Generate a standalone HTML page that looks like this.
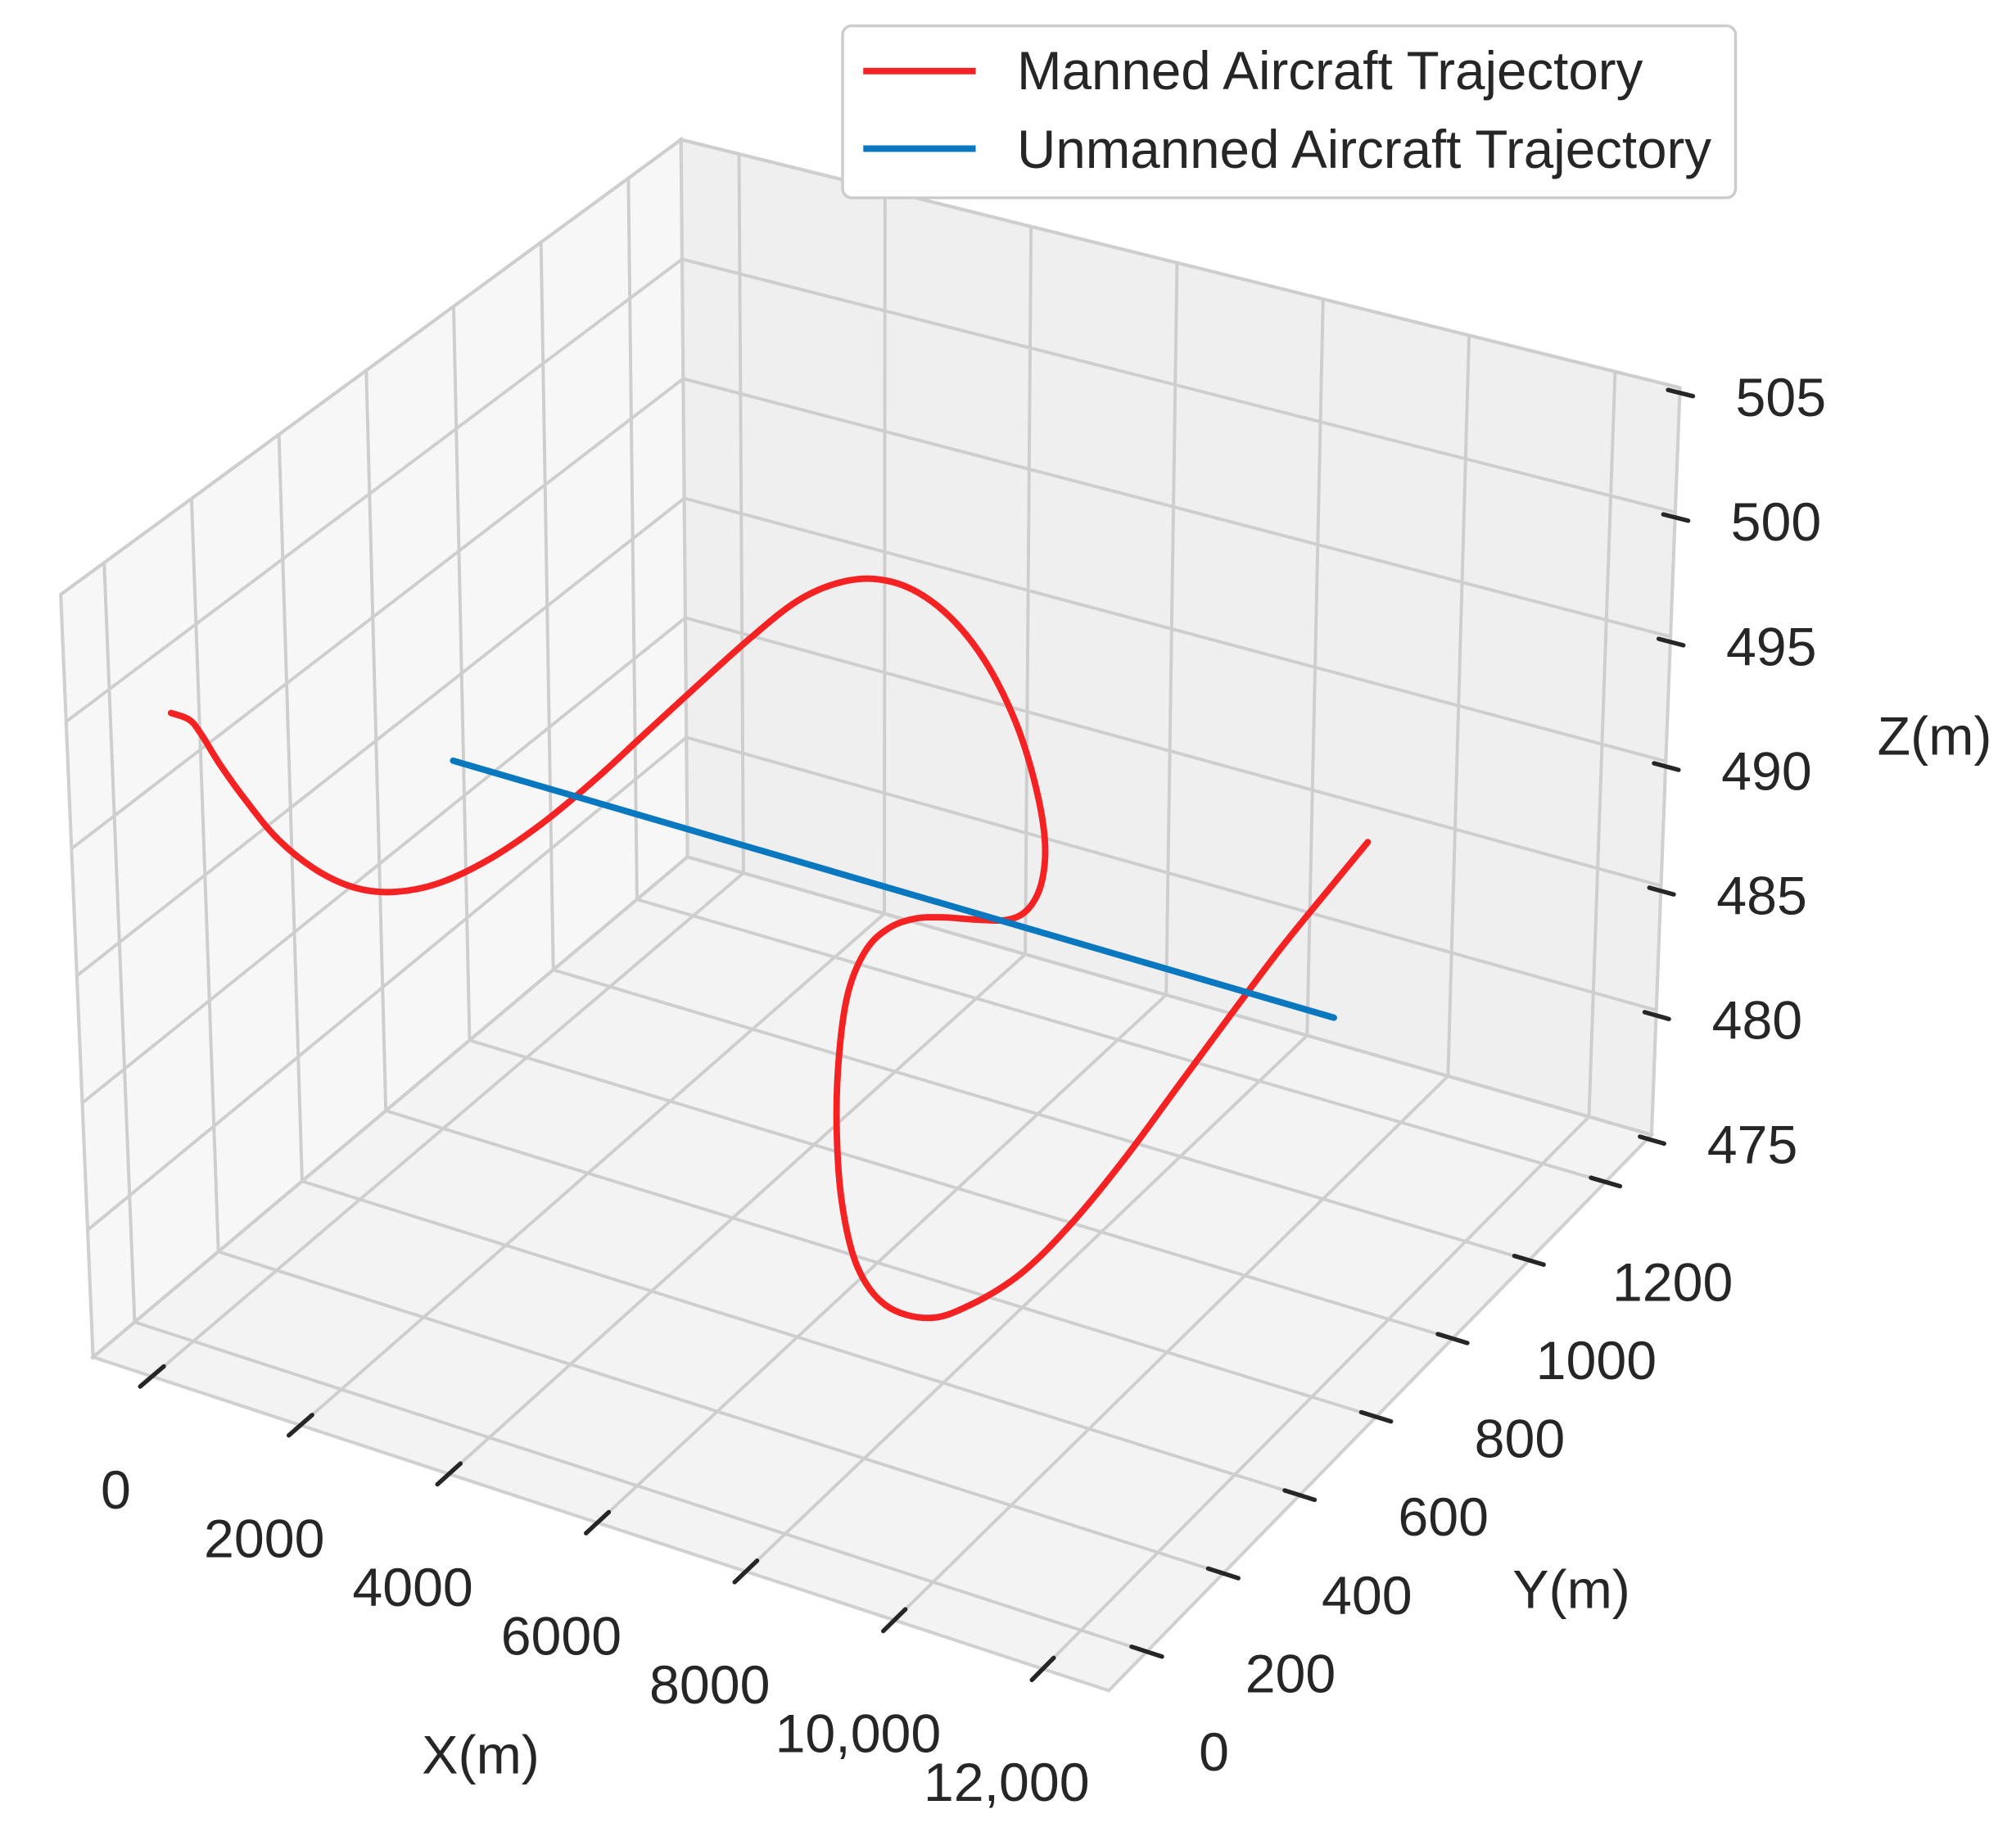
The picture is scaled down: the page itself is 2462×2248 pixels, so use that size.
<!DOCTYPE html>
<html>
<head>
<meta charset="utf-8">
<style>
  html,body{margin:0;padding:0;background:#ffffff;}
  #chart{display:block;width:2462px;height:2248px;}
  text{font-family:"Liberation Sans", Arial, sans-serif;fill:#262626;}
</style>
</head>
<body>
<svg id="chart" xmlns="http://www.w3.org/2000/svg" width="2462" height="2248" viewBox="0 0 1560 1424.4" preserveAspectRatio="none">
  <g id="panes"></g>
  <g id="grid"></g>
  <g id="ticks"></g>
  <g id="labels"></g>
  <g id="series"></g>
  <text x="372" y="1372" text-anchor="middle" font-size="42">X(m)</text>
  <text x="1216" y="1244" text-anchor="middle" font-size="42">Y(m)</text>
  <text x="1497" y="584" text-anchor="middle" font-size="42">Z(m)</text>
  <g>
    <rect x="652" y="20" width="691" height="133" rx="7" ry="7" fill="#ffffff" stroke="#cccccc" stroke-width="2.2"/>
    <line x1="668" y1="55" x2="755" y2="55" stroke="#f42222" stroke-width="5"/>
    <text x="787" y="69" font-size="41.5">Manned Aircraft Trajectory</text>
    <line x1="668" y1="115" x2="755" y2="115" stroke="#0a78bf" stroke-width="5"/>
    <text x="787" y="130" font-size="41.5">Unmanned Aircraft Trajectory</text>
  </g>
</svg>
<script>
// ---- data ----
const xTicks = [0, 2000, 4000, 6000, 8000, 10000, 12000];
const xTickLabels = ["0", "2000", "4000", "6000", "8000", "10,000", "12,000"];
const yTicks = [0, 200, 400, 600, 800, 1000, 1200];
const yTickLabels = ["0", "200", "400", "600", "800", "1000", "1200"];
const zTicks = [475, 480, 485, 490, 495, 500, 505];
const zTickLabels = ["475", "480", "485", "490", "495", "500", "505"];

const mannedX = [-3353,-3107,-2953,-2701,-2361,-1934,-1412,-886,-353,271,989,1706,2422,3135,3844,4550,5163,5686,6207,6726,7244,7712,8111,8373,8514,8479,8305,8025,7587,7149,6762,6410,6092,5841,5713,5670,5735,5943,6333,6922,7494,8206,8914,9617,10315,11008,11697,12381,12858];
const mannedY = [560,560,560,560,560,560,560,560,560,560,560,560,560,560,560,560,560,560,560,560,560,560,560,560,560,560,560,560,560,560,560,560,560,560,560,560,560,560,560,560,560,560,560,560,560,560,560,560,560];
const mannedZ = [489.37,489.32,488.89,487.85,486.70,485.51,484.73,484.50,484.82,485.75,487.40,489.47,491.84,494.39,496.93,499.42,501.41,502.60,503.27,503.31,502.63,501.27,499.25,497.05,494.85,493.16,491.91,491.19,490.80,490.50,490.11,489.43,488.27,486.33,483.77,480.86,477.79,475.39,474.19,474.21,475.24,477.17,479.87,483.03,486.46,489.88,493.24,496.38,498.55];

const unmannedX = [0, 12000];
const unmannedY = [643, 643];
const unmannedZ = [489.3, 489.5];

// ---- axis limits ----
const XMIN = -794, XMAX = 12889;
const YMIN = -99.4, YMAX = 1320.6;
const ZMIN = 475, ZMAX = 505;

// projected cube corners (screen geometry)
const CF = [72,1050], CG = [858,1308], CB = [532,663], CD = [1278,878];
const CE = [47,460],  CH = [856,724],  CA = [527,108], CC = [1300,300];

function lerp(a,b,t){return [a[0]+(b[0]-a[0])*t, a[1]+(b[1]-a[1])*t];}
function projN(u,v,w){
  const b0 = lerp(lerp(CF,CG,u), lerp(CB,CD,u), v);
  const t0 = lerp(lerp(CE,CH,u), lerp(CA,CC,u), v);
  return lerp(b0,t0,w);
}
function proj(x,y,z){
  return projN((x-XMIN)/(XMAX-XMIN),(y-YMIN)/(YMAX-YMIN),(z-ZMIN)/(ZMAX-ZMIN));
}
const NS = "http://www.w3.org/2000/svg";
function mk(tag, attrs, parent){
  const el = document.createElementNS(NS, tag);
  for (const k in attrs) el.setAttribute(k, attrs[k]);
  parent.appendChild(el);
  return el;
}
function pts(arr){return arr.map(p=>p[0].toFixed(2)+","+p[1].toFixed(2)).join(" ");}
function smoothPath(p){
  let d = "M"+p[0][0].toFixed(2)+","+p[0][1].toFixed(2);
  for (let i=0;i<p.length-1;i++){
    const p0 = p[Math.max(0,i-1)], p1 = p[i], p2 = p[i+1], p3 = p[Math.min(p.length-1,i+2)];
    const c1 = [p1[0]+(p2[0]-p0[0])/6, p1[1]+(p2[1]-p0[1])/6];
    const c2 = [p2[0]-(p3[0]-p1[0])/6, p2[1]-(p3[1]-p1[1])/6];
    d += " C"+c1[0].toFixed(2)+","+c1[1].toFixed(2)+" "+c2[0].toFixed(2)+","+c2[1].toFixed(2)+" "+p2[0].toFixed(2)+","+p2[1].toFixed(2);
  }
  return d;
}

// ---- panes ----
const panes = document.getElementById('panes');
let pl = mk('polygon',{points:pts([proj(XMIN,YMIN,ZMIN),proj(XMIN,YMAX,ZMIN),proj(XMIN,YMAX,ZMAX),proj(XMIN,YMIN,ZMAX)]),fill:'#f7f7f7',stroke:'#d0d0d0','stroke-width':2.6},panes);


pl = mk('polygon',{points:pts([proj(XMIN,YMAX,ZMIN),proj(XMAX,YMAX,ZMIN),proj(XMAX,YMAX,ZMAX),proj(XMIN,YMAX,ZMAX)]),fill:'#efefef',stroke:'#d0d0d0','stroke-width':2.6},panes);


pl = mk('polygon',{points:pts([proj(XMIN,YMIN,ZMIN),proj(XMAX,YMIN,ZMIN),proj(XMAX,YMAX,ZMIN),proj(XMIN,YMAX,ZMIN)]),fill:'#f3f3f3',stroke:'#d0d0d0','stroke-width':2.6},panes);



// ---- grid ----
const grid = document.getElementById('grid');
function gline(p,q,name){
  const l = mk('line',{x1:p[0],y1:p[1],x2:q[0],y2:q[1],stroke:'#cecece','stroke-width':2.5},grid);
  
  
}
xTicks.forEach(x=>{
  gline(proj(x,YMIN,ZMIN),proj(x,YMAX,ZMIN),'floor-gridline-x');
  gline(proj(x,YMAX,ZMIN),proj(x,YMAX,ZMAX),'back-gridline-x');
});
yTicks.forEach(y=>{
  gline(proj(XMIN,y,ZMIN),proj(XMAX,y,ZMIN),'floor-gridline-y');
  gline(proj(XMIN,y,ZMIN),proj(XMIN,y,ZMAX),'left-gridline-y');
});
zTicks.forEach(z=>{
  gline(proj(XMIN,YMIN,z),proj(XMIN,YMAX,z),'left-gridline-z');
  gline(proj(XMIN,YMAX,z),proj(XMAX,YMAX,z),'back-gridline-z');
});

// ---- ticks & labels ----
const ticks = document.getElementById('ticks');
const labels = document.getElementById('labels');
function tick(p,q,name){
  const l = mk('line',{x1:p[0],y1:p[1],x2:q[0],y2:q[1],stroke:'#262626','stroke-width':3.4,'stroke-linecap':'round'},ticks);
  
  
}
function label(p,dx,dy,txt,name){
  const t = mk('text',{x:(p[0]+dx).toFixed(1),y:(p[1]+dy).toFixed(1),'text-anchor':'middle','font-size':42},labels);
  t.textContent = txt;
  
  
}
const YR = YMAX-YMIN, XR = XMAX-XMIN;
xTicks.forEach((x,i)=>{
  const a = proj(x,YMIN+0.02*YR,ZMIN), b = proj(x,YMIN-0.02*YR,ZMIN);
  tick(a,b,'x-tick');
  const c = proj(x,YMIN,ZMIN);
  label(c,-28,102,xTickLabels[i],'x-tick-label');
});
yTicks.forEach((y,i)=>{
  const a = proj(XMAX-0.015*XR,y,ZMIN), b = proj(XMAX+0.015*XR,y,ZMIN);
  tick(a,b,'y-tick');
  const c = proj(XMAX,y,ZMIN);
  label(c,52,92,yTickLabels[i],'y-tick-label');
});
zTicks.forEach((z,i)=>{
  const a = proj(XMAX-0.012*XR,YMAX,z), b = proj(XMAX+0.013*XR,YMAX,z);
  tick([a[0],a[1]+4],[b[0],b[1]+4],'z-tick');
  const c = proj(XMAX,YMAX,z);
  label(c,78,22,zTickLabels[i],'z-tick-label');
});

// ---- series ----
const series = document.getElementById('series');
const redPts = mannedX.map((x,i)=>proj(x,mannedY[i],mannedZ[i]));
const red = mk('path',{d:smoothPath(redPts),fill:'none',stroke:'#f42222','stroke-width':5,'stroke-linejoin':'round','stroke-linecap':'round'},series);


const bluePts = unmannedX.map((x,i)=>proj(x,unmannedY[i],unmannedZ[i]));
const blue = mk('polyline',{points:pts(bluePts),fill:'none',stroke:'#0a78bf','stroke-width':5,'stroke-linejoin':'round','stroke-linecap':'round'},series);


</script>
</body>
</html>
